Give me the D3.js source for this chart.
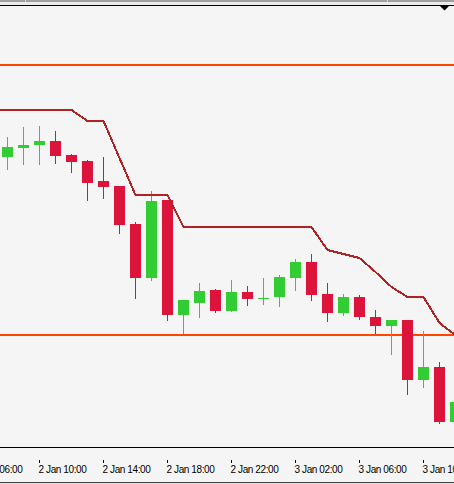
<!DOCTYPE html>
<html>
<head>
<meta charset="utf-8">
<script src="https://cdn.jsdelivr.net/npm/d3@7"></script>
<style>
  body { margin: 0; background: #f5f5f5; }
  svg { display: block; }
</style>
</head>
<body>
<svg class="chart" width="454" height="484"></svg>
<script>
// hourly bars, 2 Jan 07:00 -> 3 Jan 12:00
const times = d3.timeHour.range(new Date(2018, 0, 2, 7), new Date(2018, 0, 3, 13));

const opens  = [1.1738, 1.1741, 1.1750, 1.1753, 1.1757, 1.1743, 1.1737, 1.1717, 1.1712, 1.1674, 1.1620,
                1.1698, 1.1583, 1.1595, 1.1608, 1.1587, 1.1606, 1.1600, 1.1601, 1.1620, 1.1636,
                1.1604, 1.1585, 1.1601, 1.1581, 1.1572, 1.1578, 1.1518, 1.1531, 1.1476];
const highs  = [1.1760, 1.1761, 1.1771, 1.1772, 1.1767, 1.1744, 1.1738, 1.1741, 1.1712, 1.1676, 1.1707,
                1.1698, 1.1598, 1.1615, 1.1609, 1.1618, 1.1612, 1.1620, 1.1623, 1.1639, 1.1644,
                1.1615, 1.1604, 1.1603, 1.1588, 1.1578, 1.1578, 1.1567, 1.1536, 1.1496];
const lows   = [1.1730, 1.1728, 1.1733, 1.1733, 1.1734, 1.1725, 1.1697, 1.1699, 1.1664, 1.1599, 1.1617,
                1.1577, 1.1564, 1.1580, 1.1585, 1.1586, 1.1592, 1.1593, 1.1591, 1.1607, 1.1597,
                1.1576, 1.1582, 1.1578, 1.1564, 1.1543, 1.1503, 1.1510, 1.1474, 1.1474];
const closes = [1.1741, 1.1751, 1.1753, 1.1757, 1.1742, 1.1736, 1.1715, 1.1711, 1.1673, 1.1620, 1.1697,
                1.1583, 1.1598, 1.1607, 1.1587, 1.1606, 1.1599, 1.1600, 1.1621, 1.1636, 1.1603,
                1.1585, 1.1601, 1.1581, 1.1572, 1.1578, 1.1518, 1.1531, 1.1476, 1.1496];

// trailing stop style indicator
const stopLine = [1.1788, 1.1788, 1.1788, 1.1788, 1.1788, 1.1788, 1.1777, 1.1777, 1.1740, 1.1703, 1.1703,
                  1.1703, 1.1671, 1.1671, 1.1671, 1.1671, 1.1671, 1.1671, 1.1671, 1.1671, 1.1671,
                  1.1648, 1.1644, 1.1640, 1.1626, 1.1611, 1.1601, 1.1601, 1.1575, 1.1563];

const levels = [1.1833, 1.1563];

const tickLabels = ['2 Jan 06:00', '2 Jan 10:00', '2 Jan 14:00', '2 Jan 18:00',
                    '2 Jan 22:00', '3 Jan 02:00', '3 Jan 06:00', '3 Jan 10:00'];

const upColor = '#32cd32';
const downColor = '#dc143c';

const svg = d3.select('svg.chart');
const width = +svg.attr('width');

const plotTop = 6, plotBottom = 447;

const xScale = d3.scaleTime()
    .domain([times[0], times[times.length - 1]])
    .range([-8.5, 455.5]);

const yScale = d3.scaleLinear()
    .domain([1.1450, 1.1870])
    .range([448, 28]);

const bars = times.map((t, i) => ({
    time: t, open: opens[i], high: highs[i], low: lows[i], close: closes[i], stop: stopLine[i]
}));

// window frame on top
svg.append('rect').attr('x', 0).attr('y', 0).attr('width', width).attr('height', 2).attr('fill', '#a0a0a0');
svg.append('rect').attr('x', 0).attr('y', 2).attr('width', width).attr('height', 3).attr('fill', '#ececec');
[25, 387].forEach(x => svg.append('rect').attr('x', x).attr('y', 0).attr('width', 1).attr('height', 2).attr('fill', '#d0d0d0'));
svg.append('rect').attr('x', 0).attr('y', 5).attr('width', width).attr('height', 1).attr('fill', '#000');

svg.append('clipPath').attr('id', 'plot-clip')
  .append('rect')
    .attr('x', 0).attr('y', plotTop)
    .attr('width', width).attr('height', plotBottom - plotTop);

const g = svg.append('g')
    .attr('clip-path', 'url(#plot-clip)')
    .attr('shape-rendering', 'crispEdges');

g.selectAll('line.level').data(levels)
  .enter().append('line')
    .attr('class', 'level')
    .attr('x1', 0).attr('x2', width)
    .attr('y1', d => yScale(d)).attr('y2', d => yScale(d))
    .attr('stroke', '#ff4500')
    .attr('stroke-width', 2);

const candle = g.selectAll('g.candle').data(bars)
  .enter().append('g')
    .attr('class', 'candle')
    .attr('fill', d => d.close >= d.open ? upColor : downColor);

candle.append('rect')
    .attr('x', d => xScale(d.time) - 0.5)
    .attr('y', d => yScale(d.high))
    .attr('width', 1)
    .attr('height', d => yScale(d.low) - yScale(d.high));

candle.append('rect')
    .attr('x', d => xScale(d.time) - 5.5)
    .attr('y', d => yScale(Math.max(d.open, d.close)))
    .attr('width', 11)
    .attr('height', d => Math.max(1, Math.abs(yScale(d.open) - yScale(d.close))));

g.append('path')
    .datum(bars)
    .attr('fill', 'none')
    .attr('stroke', '#b22222')
    .attr('stroke-width', 2)
    .attr('d', d3.line().x(d => xScale(d.time)).y(d => yScale(d.stop)));

// chart shift marker
svg.append('path')
    .attr('d', 'M440,6L449,6L444.5,10.5Z')
    .attr('fill', '#000');

svg.append('rect').attr('x', 0).attr('y', plotBottom).attr('width', width).attr('height', 1).attr('fill', '#000');

// time axis
const parseTick = d3.timeParse('%Y %d %b %H:%M');
const tickTimes = tickLabels.map(s => parseTick('2018 ' + s));

const axis = svg.append('g')
    .attr('transform', 'translate(0, 460)')
    .call(d3.axisBottom(xScale)
        .tickValues(tickTimes)
        .tickFormat((d, i) => tickLabels[i])
        .tickSize(3)
        .offset(0));

axis.select('.domain').remove();
axis.selectAll('.tick line').attr('stroke', '#000').attr('shape-rendering', 'crispEdges');
axis.selectAll('.tick text')
    .attr('x', -1)
    .attr('y', 13)
    .attr('dy', null)
    .attr('text-anchor', 'start')
    .attr('fill', '#000')
    .style('font-family', '"Liberation Sans", Arial, sans-serif')
    .style('font-size', '10px')
    .style('letter-spacing', '-0.4px');

svg.append('rect').attr('x', 0).attr('y', 482).attr('width', width).attr('height', 1).attr('fill', '#404040');
svg.append('rect').attr('x', 0).attr('y', 483).attr('width', width).attr('height', 1).attr('fill', '#e0e0e0');
</script>
</body>
</html>
